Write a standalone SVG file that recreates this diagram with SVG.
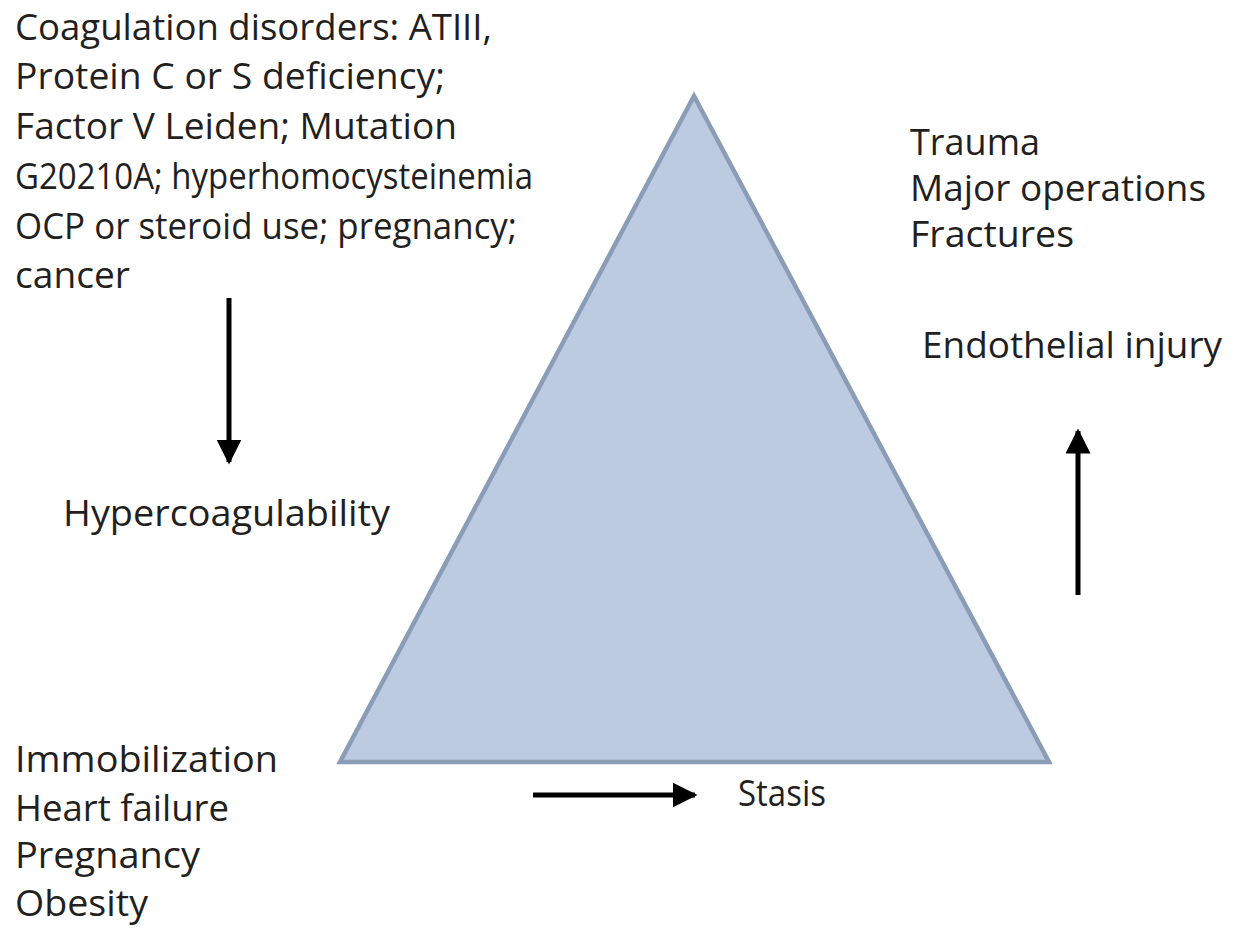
<svg xmlns="http://www.w3.org/2000/svg" width="1236" height="928" viewBox="0 0 1236 928">
<style>
text{font-family:"Open Sans","Noto Sans","Liberation Sans",sans-serif;font-size:37px;fill:#231f20}
.conn{stroke:#000;stroke-width:5;fill:none}
</style>
<defs>
<marker id="ah" viewBox="0 0 10 10" refX="9" refY="5" markerWidth="5" markerHeight="5" orient="auto" markerUnits="strokeWidth">
<path d="M0,0 L10,5 L0,10 z" fill="#000"/>
</marker>
</defs>
<rect width="1236" height="928" fill="#fff"/>
<g id="triangle">
<polygon points="694,96 340,762 1049,762" fill="#bccbe2" stroke="#8b9cb7" stroke-width="4.5" stroke-linejoin="miter"/>
</g>
<g id="connectors">
<line class="conn" x1="229" y1="298" x2="229" y2="462" marker-end="url(#ah)"/>
<line class="conn" x1="1078" y1="595" x2="1078" y2="431" marker-end="url(#ah)"/>
<line class="conn" x1="533" y1="795" x2="695" y2="795" marker-end="url(#ah)"/>
</g>
<g id="hypercoagulability-causes">
<text x="15" y="40" textLength="477" lengthAdjust="spacingAndGlyphs">Coagulation disorders: ATIII,</text>
<text x="15" y="89" textLength="430" lengthAdjust="spacingAndGlyphs">Protein C or S deficiency;</text>
<text x="15" y="139" textLength="442" lengthAdjust="spacingAndGlyphs">Factor V Leiden; Mutation</text>
<text x="15" y="189" textLength="518" lengthAdjust="spacingAndGlyphs">G20210A; hyperhomocysteinemia</text>
<text x="15" y="239" textLength="502" lengthAdjust="spacingAndGlyphs">OCP or steroid use; pregnancy;</text>
<text x="15" y="288" textLength="115" lengthAdjust="spacingAndGlyphs">cancer</text>
</g>
<g id="hypercoagulability">
<text x="63" y="526" textLength="327" lengthAdjust="spacingAndGlyphs">Hypercoagulability</text>
</g>
<g id="injury-causes">
<text x="910" y="155" textLength="130" lengthAdjust="spacingAndGlyphs">Trauma</text>
<text x="910" y="201" textLength="296" lengthAdjust="spacingAndGlyphs">Major operations</text>
<text x="910" y="247" textLength="164" lengthAdjust="spacingAndGlyphs">Fractures</text>
</g>
<g id="endothelial-injury">
<text x="922" y="358" textLength="300" lengthAdjust="spacingAndGlyphs">Endothelial injury</text>
</g>
<g id="stasis-causes">
<text x="15" y="772" textLength="263" lengthAdjust="spacingAndGlyphs">Immobilization</text>
<text x="15" y="821" textLength="214" lengthAdjust="spacingAndGlyphs">Heart failure</text>
<text x="15" y="868" textLength="185" lengthAdjust="spacingAndGlyphs">Pregnancy</text>
<text x="15" y="916" textLength="133" lengthAdjust="spacingAndGlyphs">Obesity</text>
</g>
<g id="stasis">
<text x="738" y="806" textLength="88" lengthAdjust="spacingAndGlyphs">Stasis</text>
</g>
</svg>
